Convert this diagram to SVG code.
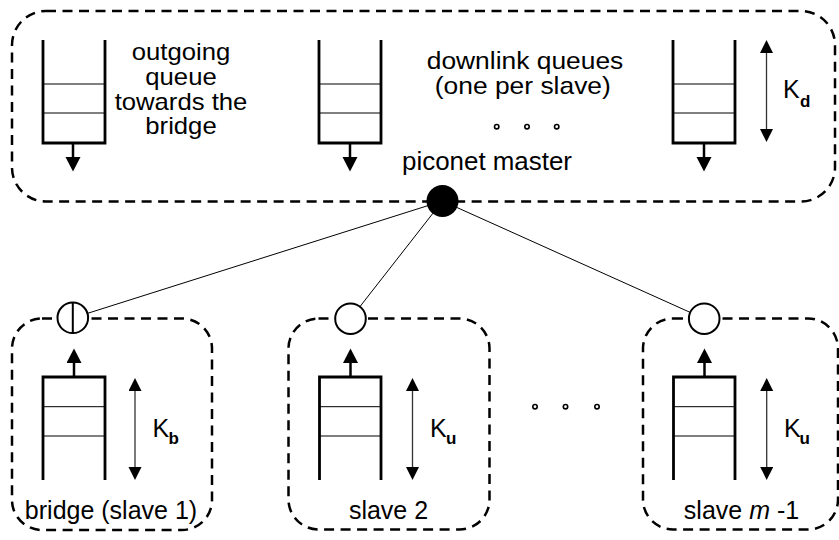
<svg xmlns="http://www.w3.org/2000/svg" width="839" height="540" viewBox="0 0 839 540">
  <style>
    .frame { fill: none; stroke: #000; stroke-width: 2.5; stroke-dasharray: 10 6.5; }
    .wall { fill: none; stroke: #000; stroke-width: 2.8; stroke-linejoin: miter; }
    .slot { stroke: #000; stroke-width: 1; }
    .stem { stroke: #000; stroke-width: 2.5; }
    .span { stroke: #333; stroke-width: 1.3; }
    .link { stroke: #000; stroke-width: 1; fill: none; }
    .port { fill: #fff; stroke: #000; stroke-width: 2; }
    .dot { fill: none; stroke: #000; stroke-width: 1.6; }
    text { font-family: "Liberation Sans", Arial, Helvetica, sans-serif; font-size: 25px; fill: #000; }
    .note { font-size: 24px; }
    .sub { font-size: 17px; font-weight: bold; }
  </style>
  <defs>
    <marker id="head" markerUnits="userSpaceOnUse" markerWidth="16" markerHeight="16" refX="0" refY="7.5" orient="auto">
      <path d="M0,0 L14.5,7.5 L0,15 z" fill="#000"/>
    </marker>
    <marker id="tip" markerUnits="userSpaceOnUse" markerWidth="14" markerHeight="14" refX="0" refY="6.5" orient="auto-start-reverse">
      <path d="M0,0 L13,6.5 L0,13 z" fill="#000"/>
    </marker>
  </defs>

  <!-- piconet master -->
  <g id="master">
    <rect class="frame" x="12" y="11" width="823" height="190.5" rx="34" ry="34"/>
    <g id="queue-bridge">
      <path class="wall" d="M43,40 V143 H105 V40"/>
      <line class="slot" x1="43" y1="84" x2="105" y2="84"/>
      <line class="slot" x1="43" y1="113" x2="105" y2="113"/>
      <line class="stem" x1="73" y1="143" x2="73" y2="157" marker-end="url(#head)"/>
    </g>
    <g transform="translate(181,0) scale(1.07,1)">
      <text class="note" text-anchor="middle"><tspan x="0" y="60">outgoing</tspan><tspan x="0" y="85">queue</tspan><tspan x="0" y="110">towards the</tspan><tspan x="0" y="134">bridge</tspan></text>
    </g>
    <g id="queue-down-2">
      <path class="wall" d="M319,40 V143 H381 V40"/>
      <line class="slot" x1="319" y1="84" x2="381" y2="84"/>
      <line class="slot" x1="319" y1="113" x2="381" y2="113"/>
      <line class="stem" x1="350" y1="143" x2="350" y2="157" marker-end="url(#head)"/>
    </g>
    <g transform="translate(525,0) scale(1.1,1)">
      <text class="note" text-anchor="middle"><tspan x="0" y="69.5">downlink queues</tspan><tspan x="-2" y="94">(one per slave)</tspan></text>
    </g>
    <circle class="dot" cx="496.7" cy="126.7" r="2.2"/>
    <circle class="dot" cx="527" cy="126.7" r="2.2"/>
    <circle class="dot" cx="556.7" cy="126.7" r="2.2"/>
    <g id="queue-down-m">
      <path class="wall" d="M673,40 V143 H735 V40"/>
      <line class="slot" x1="673" y1="84" x2="735" y2="84"/>
      <line class="slot" x1="673" y1="113" x2="735" y2="113"/>
      <line class="stem" x1="704" y1="143" x2="704" y2="157" marker-end="url(#head)"/>
    </g>
    <line class="span" x1="766.5" y1="53" x2="766.5" y2="129" marker-start="url(#tip)" marker-end="url(#tip)"/>
    <text x="783" y="98">K</text>
    <text class="sub" x="800" y="106.5">d</text>
    <text x="487" y="169.5" text-anchor="middle" textLength="170" lengthAdjust="spacingAndGlyphs">piconet master</text>
  </g>

  <!-- bridge (slave 1) -->
  <g id="bridge">
    <rect class="frame" x="12" y="318.5" width="200" height="211.5" rx="30" ry="30"/>
    <path class="wall" d="M43,480 V377 H105 V480"/>
    <line class="slot" x1="43" y1="406.7" x2="105" y2="406.7"/>
    <line class="slot" x1="43" y1="436" x2="105" y2="436"/>
    <line class="stem" x1="74" y1="377" x2="74" y2="363" marker-end="url(#head)"/>
    <line class="span" x1="135" y1="391" x2="135" y2="467" marker-start="url(#tip)" marker-end="url(#tip)"/>
    <text x="152.5" y="436.7">K</text>
    <text class="sub" x="168.5" y="443.5">b</text>
    <text x="111" y="518.5" text-anchor="middle">bridge (slave 1)</text>
  </g>

  <!-- slave 2 -->
  <g id="slave2">
    <rect class="frame" x="288.5" y="318.5" width="201" height="211" rx="30" ry="30"/>
    <path class="wall" d="M319.5,480 V377 H381 V480"/>
    <line class="slot" x1="319.5" y1="406.7" x2="381" y2="406.7"/>
    <line class="slot" x1="319.5" y1="436" x2="381" y2="436"/>
    <line class="stem" x1="350.5" y1="377" x2="350.5" y2="363" marker-end="url(#head)"/>
    <line class="span" x1="412.5" y1="391" x2="412.5" y2="467" marker-start="url(#tip)" marker-end="url(#tip)"/>
    <text x="430" y="436.7">K</text>
    <text class="sub" x="446" y="443.5">u</text>
    <text x="388.5" y="518.5" text-anchor="middle">slave 2</text>
  </g>

  <circle class="dot" cx="535" cy="406.7" r="2.2"/>
  <circle class="dot" cx="565.5" cy="406.7" r="2.2"/>
  <circle class="dot" cx="597" cy="406.7" r="2.2"/>

  <!-- slave m-1 -->
  <g id="slave-m1">
    <rect class="frame" x="643" y="318.5" width="195" height="211" rx="30" ry="30"/>
    <path class="wall" d="M673.5,480 V377 H735 V480"/>
    <line class="slot" x1="673.5" y1="406.7" x2="735" y2="406.7"/>
    <line class="slot" x1="673.5" y1="436" x2="735" y2="436"/>
    <line class="stem" x1="704.5" y1="377" x2="704.5" y2="363" marker-end="url(#head)"/>
    <line class="span" x1="766.7" y1="391" x2="766.7" y2="467" marker-start="url(#tip)" marker-end="url(#tip)"/>
    <text x="784" y="436.7">K</text>
    <text class="sub" x="799.5" y="443.5">u</text>
    <text x="741.5" y="518.5" text-anchor="middle">slave <tspan font-style="italic">m</tspan> -1</text>
  </g>

  <!-- links from the master to each slave port -->
  <g id="links">
    <line class="link" x1="442.5" y1="201" x2="72.8" y2="318"/>
    <line class="link" x1="442.5" y1="201" x2="350.5" y2="318.7"/>
    <line class="link" x1="442.5" y1="201" x2="704.2" y2="318.7"/>
  </g>

  <!-- ports -->
  <g id="ports">
    <circle cx="442.5" cy="201" r="16" fill="#000"/>
    <circle class="port" cx="72.8" cy="317.8" r="15.3"/>
    <line x1="72.8" y1="302.5" x2="72.8" y2="333.1" stroke="#000" stroke-width="2"/>
    <circle class="port" cx="350.5" cy="318.7" r="15.3"/>
    <circle class="port" cx="704.2" cy="318.7" r="15.3"/>
  </g>
</svg>
